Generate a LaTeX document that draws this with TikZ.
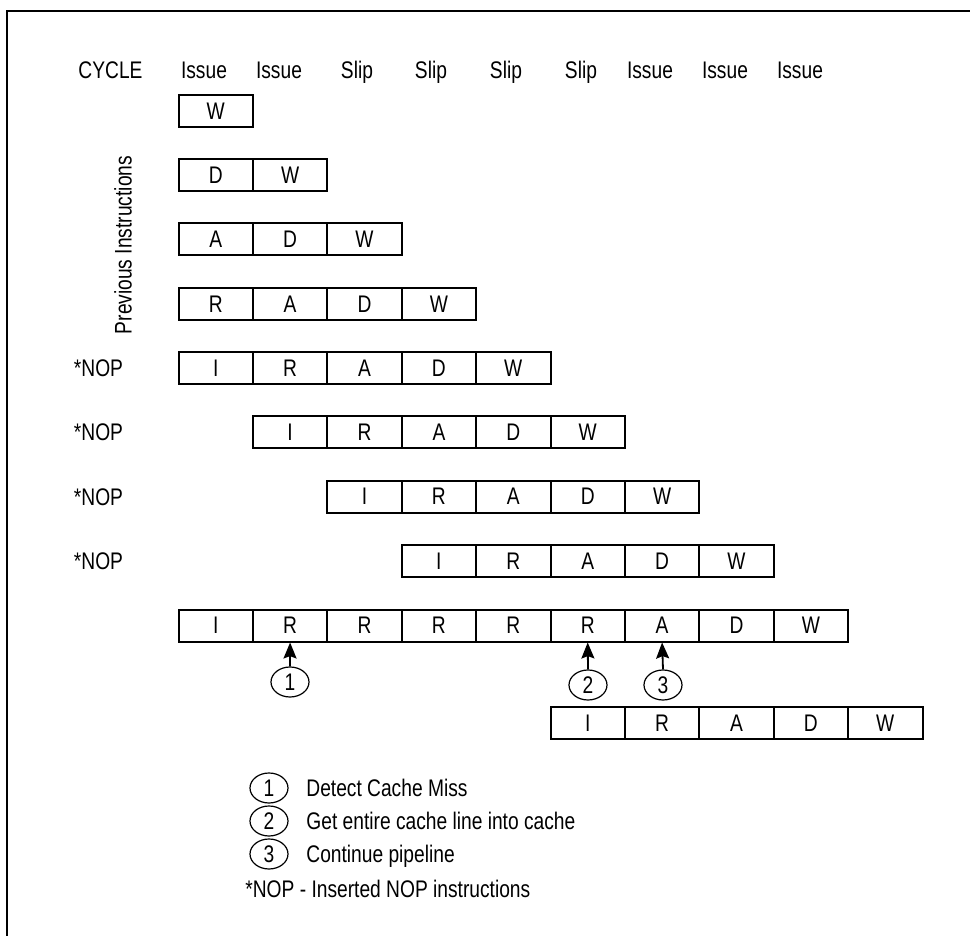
\documentclass[tikz,border=0pt]{standalone}
\usepackage{fontspec}
\setmainfont{Liberation Sans}[FakeStretch=0.8]
\usetikzlibrary{arrows.meta,shapes.geometric}
\newcommand\pipeRow[4]{%
  \foreach \L [count=\k from 0] in {#4} {%
    \pgfmathtruncatemacro\cc{#3+\k}%
    \node[cell] (c#1-\cc) at ({215.7+74.4*\cc},#2) {\L};%
  }%
}
\tikzset{
  every node/.style={font=\fontsize{12}{14}\selectfont},
  cell/.style={draw, line width=1pt, minimum width=37.2pt, minimum height=16pt, inner sep=0pt},
  marker/.style={draw, ellipse, line width=0.6pt, minimum width=19pt, minimum height=15pt, inner sep=0pt},
  pointer/.style={line width=0.9pt, -{Stealth[length=8pt,width=6.5pt,inset=1.2pt]}},
  frame/.style={line width=1pt},
}
\begin{document}
\begin{tikzpicture}[x=0.5pt,y=-0.5pt]
\useasboundingbox (0,0) rectangle (970,936);
\draw[frame] (7,936) -- (7,11) -- (970,11);
% headers
\node[anchor=base] (hc) at (110.5,79) {CYCLE};
\node[anchor=base] (h0) at (204,79) {Issue};
\node[anchor=base] (h1) at (279,79) {Issue};
\node[anchor=base] (h2) at (357,79) {Slip};
\node[anchor=base] (h3) at (431,79) {Slip};
\node[anchor=base] (h4) at (506,79) {Slip};
\node[anchor=base] (h5) at (581,79) {Slip};
\node[anchor=base] (h6) at (650,79) {Issue};
\node[anchor=base] (h7) at (725,79) {Issue};
\node[anchor=base] (h8) at (800,79) {Issue};
% side labels
\node[rotate=90] (prev) at (123,245) {Previous Instructions};
\node[anchor=base] (n5) at (98.5,376.5) {*NOP};
\node[anchor=base] (n6) at (98.5,440.5) {*NOP};
\node[anchor=base] (n7) at (98.5,505) {*NOP};
\node[anchor=base] (n8) at (98.5,569.5) {*NOP};
% pipeline rows
\pipeRow{1}{111}{0}{W}
\pipeRow{2}{175.25}{0}{D,W}
\pipeRow{3}{239.5}{0}{A,D,W}
\pipeRow{4}{303.75}{0}{R,A,D,W}
\pipeRow{5}{368}{0}{I,R,A,D,W}
\pipeRow{6}{432.25}{1}{I,R,A,D,W}
\pipeRow{7}{496.5}{2}{I,R,A,D,W}
\pipeRow{8}{560.75}{3}{I,R,A,D,W}
\pipeRow{9}{625.5}{0}{I,R,R,R,R,R,A,D,W}
\pipeRow{10}{723}{5}{I,R,A,D,W}
% markers
\node[marker] (m1) at (290,682) {1};
\node[marker] (m2) at (588,685) {2};
\node[marker] (m3) at (663,685) {3};
\draw[pointer] (m1.north) -- (c9-1.south);
\draw[pointer] (m2.north) -- (c9-5.south);
\draw[pointer] (m3.north) -- (c9-6.south);
% legend
\node[marker] (l1) at (269,788) {1};
\node[marker] (l2) at (269,821) {2};
\node[marker] (l3) at (269,854) {3};
\node[anchor=base west, inner sep=0pt] (t1) at (306,796.5) {Detect Cache Miss};
\node[anchor=base west, inner sep=0pt] (t2) at (306,829.5) {Get entire cache line into cache};
\node[anchor=base west, inner sep=0pt] (t3) at (306,862.5) {Continue pipeline};
\node[anchor=base west, inner sep=0pt] (t4) at (245,897) {*NOP - Inserted NOP instructions};
\end{tikzpicture}
\end{document}
